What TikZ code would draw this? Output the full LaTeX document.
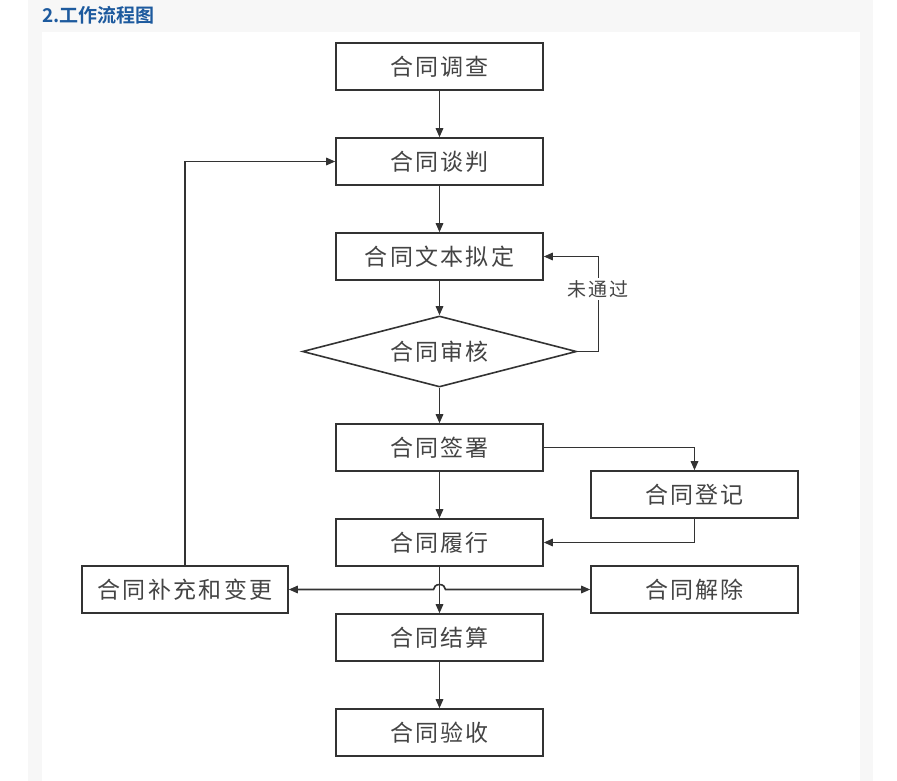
\documentclass[tikz,border=0pt]{standalone}
\usepackage{fontspec}
\usetikzlibrary{arrows.meta,shapes.geometric}
\newfontfamily\cjk[LetterSpace=10]{Noto Sans CJK SC}
\newfontfamily\cjktitle[BoldFont={Noto Sans CJK SC Bold}]{Noto Sans CJK SC}
\definecolor{panelgray}{HTML}{F7F7F7}
\definecolor{titleblue}{HTML}{1D5A9E}
\definecolor{linegray}{HTML}{333333}
\definecolor{textgray}{HTML}{444444}
\begin{document}
\begin{tikzpicture}[x=1pt,y=-1pt,
  box/.style={draw=linegray,line width=1.6pt,fill=white,rectangle,minimum width=207pt,minimum height=47pt,inner sep=0pt,font=\cjk\fontsize{23}{23}\selectfont,text=textgray},
  dia/.style={draw=linegray,line width=1.6pt,fill=white,diamond,aspect=3.86,minimum width=274pt,minimum height=71pt,inner sep=0pt,font=\cjk\fontsize{23}{23}\selectfont,text=textgray},
  conn/.style={draw=linegray,line width=1.6pt,-{Triangle[length=9pt,width=7.5pt]}},
  lbl/.style={fill=white,inner sep=2pt,font=\cjk\fontsize{19}{19}\selectfont,text=textgray}]
\useasboundingbox (0,0) rectangle (897,781);
\fill[white] (0,0) rectangle (897,781);
\fill[panelgray] (28,0) rectangle (873,781);
\fill[white] (42,32) rectangle (860,781);
\node[anchor=west,inner sep=0pt,text=titleblue,font=\cjktitle\bfseries\fontsize{19}{19}\selectfont] (title) at (42,15) {2.工作流程图};

\node[box] (dc) at (439.5,66.5) {合同调查};
\node[box] (tp) at (439.5,161.5) {合同谈判};
\node[box] (ni) at (439.5,256.5) {合同文本拟定};
\node[dia] (sh) at (439.5,351.5) {合同审核};
\node[box] (qs) at (439.5,447.5) {合同签署};
\node[box] (dj) at (694.5,494.5) {合同登记};
\node[box] (lx) at (439.5,542.5) {合同履行};
\node[box,minimum width=206pt] (bc) at (185,589.5) {合同补充和变更};
\node[box] (jc) at (694.5,589.5) {合同解除};
\node[box] (js) at (439.5,637.5) {合同结算};
\node[box] (ys) at (439.5,732.5) {合同验收};

\draw[conn] (dc.south) -- (tp.north);
\draw[conn] (tp.south) -- (ni.north);
\draw[conn] (ni.south) -- (sh.north);
\draw[conn] (sh.south) -- (qs.north);
\draw[conn] (qs.south) -- (lx.north);
\draw[conn] (lx.south) -- (js.north);
\draw[conn] (js.south) -- (ys.north);
\draw[conn] (sh.east) -- ++(21,0) |- (ni.east);
\node[lbl] (wtg) at (598,289) {未通过};
\draw[conn] (qs.east) -| (dj.north);
\draw[conn] (dj.south) |- (lx.east);
\draw[conn] (bc.north) |- (tp.west);
\draw[draw=linegray,line width=1.6pt,{Triangle[length=9pt,width=7.5pt]}-{Triangle[length=9pt,width=7.5pt]}]
  (bc.east) -- ([xshift=-6pt]lx.south |- bc.east) arc[start angle=180,end angle=0,x radius=6pt,y radius=5pt] -- (jc.west);
\end{tikzpicture}
\end{document}
